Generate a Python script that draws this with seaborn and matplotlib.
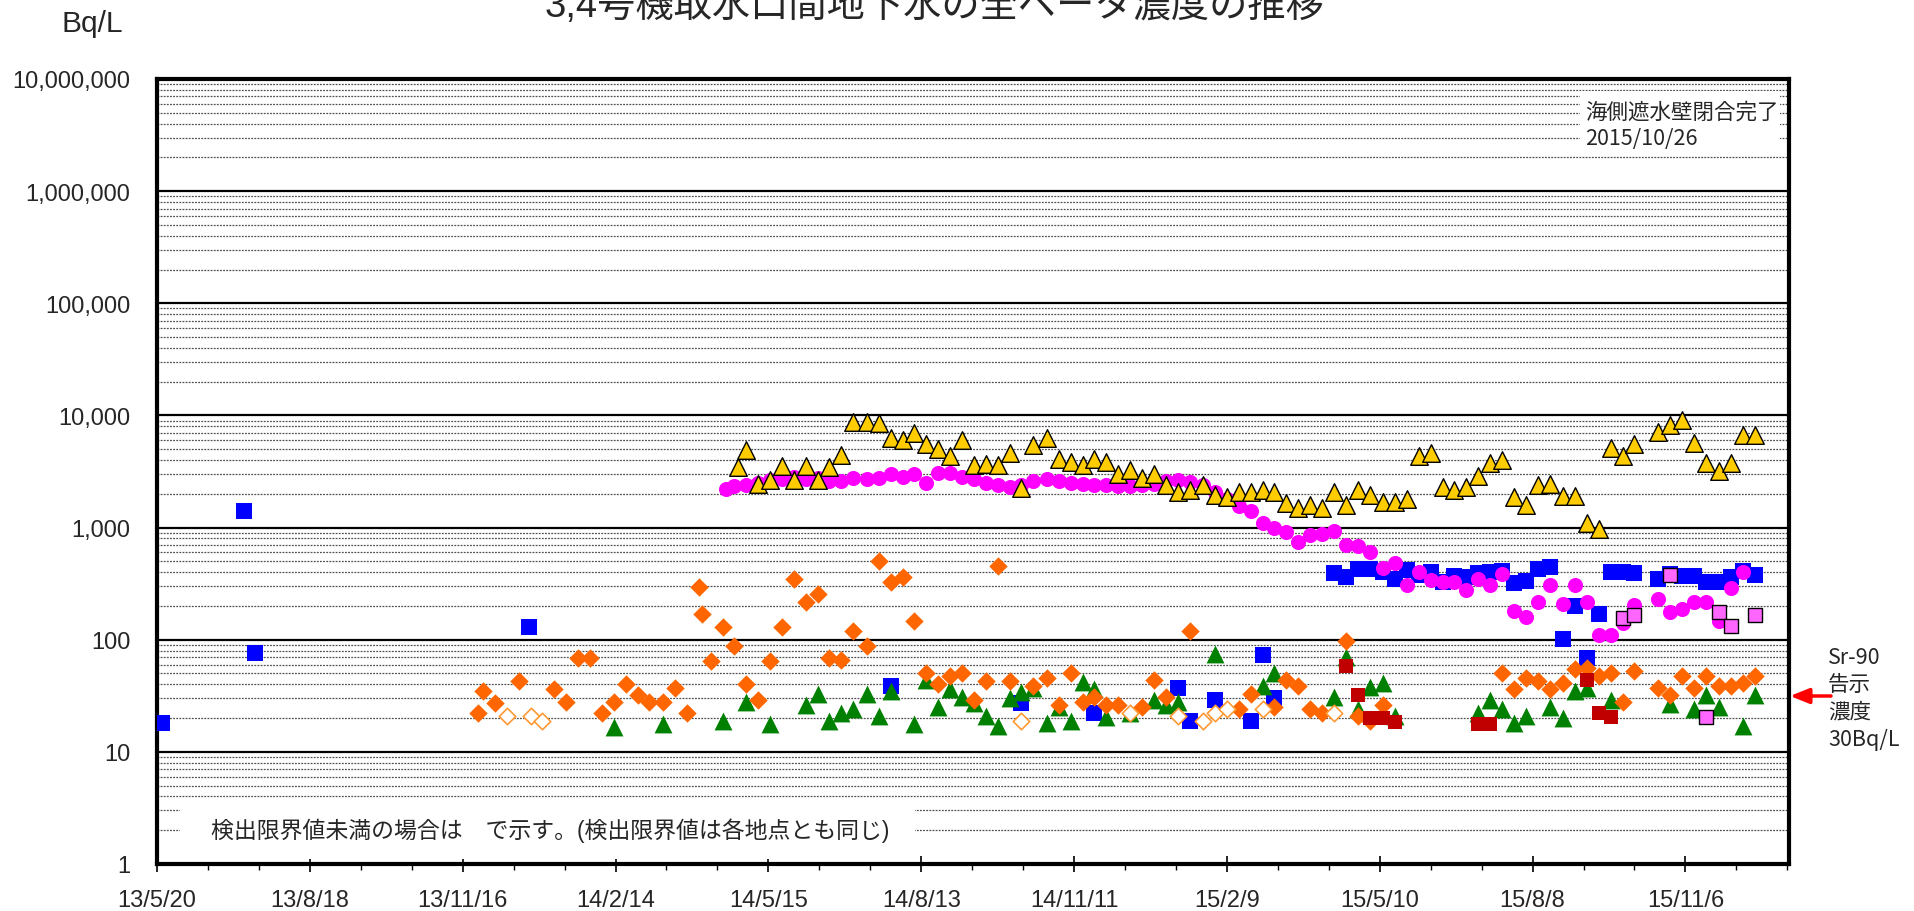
import matplotlib
matplotlib.use('Agg')
import matplotlib.pyplot as plt
import matplotlib.dates as mdates
import matplotlib.ticker as mticker
from matplotlib.patches import Rectangle
import numpy as np
import pandas as pd
import seaborn as sns

W, H, DPI = 1914, 912, 100
NA = None

TITLE = '3,4号機取水口間地下水の全ベータ濃度の推移'
NOTE = '検出限界値未満の場合は　で示す。(検出限界値は各地点とも同じ)'
WALL_NOTE = '海側遮水壁閉合完了\n2015/10/26'
SR_NOTE = 'Sr-90\n告示\n濃度\n30Bq/L'

# weekly sampling days (from 2014/5)
week = [
    '2014-05-02', '2014-05-09', '2014-05-16', '2014-05-23', '2014-05-30', '2014-06-06', '2014-06-13', '2014-06-20', '2014-06-27', '2014-07-04',
    '2014-07-12', '2014-07-19', '2014-07-26', '2014-08-02', '2014-08-09', '2014-08-16', '2014-08-23', '2014-08-30', '2014-09-06', '2014-09-13',
    '2014-09-20', '2014-09-27', '2014-10-04', '2014-10-11', '2014-10-18', '2014-10-26', '2014-11-02', '2014-11-09', '2014-11-16', '2014-11-23',
    '2014-11-30', '2014-12-07', '2014-12-14', '2014-12-21', '2014-12-28', '2015-01-04', '2015-01-11', '2015-01-18', '2015-01-26', '2015-02-02',
    '2015-02-09', '2015-02-16', '2015-02-23', '2015-03-02', '2015-03-09', '2015-03-16', '2015-03-23', '2015-03-30', '2015-04-06', '2015-04-13',
    '2015-04-20', '2015-04-27', '2015-05-04', '2015-05-12', '2015-05-19', '2015-05-26', '2015-06-02', '2015-06-09', '2015-06-16', '2015-06-23',
    '2015-06-30', '2015-07-07', '2015-07-14', '2015-07-21', '2015-07-28', '2015-08-04', '2015-08-11', '2015-08-18', '2015-08-26', '2015-09-02',
    '2015-09-09', '2015-09-16', '2015-09-23', '2015-09-30', '2015-10-07', '2015-10-14', '2015-10-21', '2015-10-28', '2015-11-04', '2015-11-11',
    '2015-11-18', '2015-11-26', '2015-12-03', '2015-12-10', '2015-12-17']

magenta_early_dates = ['2014-04-20', '2014-04-25']
magenta_early_vals = [2220, 2350]
magenta_w = [
    2420, 2520, 2640, 2730, 2830, 2730, 2770, 2580, 2580, 2790,
    2690, 2790, 2990, 2830, 3030, 2500, 3090, 3090, 2830, 2730,
    2500, 2380, 2300, 2380, 2580, 2690, 2600, 2520, 2460, 2420,
    2420, 2350, 2350, 2420, 2460, 2580, 2640, 2550, 2380, 2080,
    1810, 1560, 1400, 1100, 1000, 915, 745, 860, 880, 925,
    700, 690, 600, 435, 480, 310, 400, 340, 330, 330,
    278, 348, 308, 385, 180, 158, 218, 308, 208, 308,
    218, 111, 111, 140, 205, NA, 230, 178, 188, 218,
    218, 148, 288, 400, NA]

yellow_early_dates = ['2014-04-27']
yellow_early_vals = [3470]
yellow_w = [
    4880, 2460, 2640, 3540, 2640, 3540, 2640, 3470, 4470, 8720,
    8720, 8550, 6320, 5990, 6970, 5520, 4980, 4340, 6070, 3640,
    3720, 3640, 4650, 2250, 5410, 6320, 4110, 3840, 3640, 4060,
    3840, 3020, 3240, 2770, 3020, 2420, 2080, 2180, 2380, 1970,
    1880, 2080, 2080, 2180, 2080, 1670, 1480, 1600, 1480, 2080,
    1580, 2180, 1970, 1690, 1690, 1790, 4350, 4650, 2300, 2180,
    2300, 2890, 3790, 3980, 1870, 1580, 2380, 2460, 1900, 1900,
    1090, 980, 5120, 4310, 5520, NA, 7110, 8150, 9020, 5670,
    3770, 3170, 3770, 6730, 6640]

orange_early_dates = [
    '2013-11-25', '2013-11-28', '2013-12-05', '2013-12-19', '2014-01-09', '2014-01-16', '2014-01-23',
    '2014-01-30', '2014-02-06', '2014-02-13', '2014-02-20', '2014-02-27', '2014-03-06', '2014-03-14',
    '2014-03-21', '2014-03-28', '2014-04-04', '2014-04-06', '2014-04-11', '2014-04-18', '2014-04-25']
orange_early_vals = [22, 35, 27, 43, 36, 28, 68, 68, 22, 28, 40, 32, 28, 28, 37, 22, 297, 169, 64, 129, 88]
orange_w = [
    40, 29, 64, 129, 345, 217, 258, 68, 66, 119,
    87, 502, 327, 365, 147, 50, 40, 47, 51, 29,
    43, 450, 43, NA, 39, 46, 26, 50, 28, 31,
    26, 26, NA, 25, 44, 31, NA, 119, NA, NA,
    NA, 24, 33, NA, 25, 44, 39, 24, 22, NA,
    98, 21, 19, 26, NA, NA, NA, NA, NA, NA,
    NA, NA, NA, 51, 36, 46, 43, 36, 41, 55,
    56, 47, 50, 28, 53, NA, 37, 32, 47, 37,
    47, 39, 39, 41, 47]

green_early_dates = ['2014-02-13', '2014-03-14', '2014-04-18']
green_early_vals = [16.7, 17.8, 18.8]
green_w = [
    28, NA, 17.8, NA, NA, 26, 33, 18.8, 22, 24,
    33, 21, 35, NA, 17.8, 44, 25, 36.5, 31, 27,
    21, 17, 30, 34.5, 37, 18, 25, 19, 42, 36.5,
    20.5, NA, 22, NA, 29, 26, 28, NA, NA, 75,
    NA, NA, NA, 39, 51, NA, NA, NA, NA, 31,
    70, 24, 38, 41, 21, NA, NA, NA, NA, NA,
    NA, 22, 29, 24, 18, 21, NA, 25, 20, 35,
    37, NA, 29, NA, NA, NA, NA, 26.5, NA, 24,
    32, 25, NA, 17, 32]

blue_dates = [
    '2013-05-23', '2013-07-10', '2013-07-17', '2013-12-25', '2014-07-26', '2014-10-11', '2014-11-23',
    '2015-01-11', '2015-01-18', '2015-02-02', '2015-02-23', '2015-03-02', '2015-03-09',
    '2015-04-13', '2015-04-20', '2015-04-27', '2015-05-04', '2015-05-12', '2015-05-19', '2015-05-26',
    '2015-06-02', '2015-06-09', '2015-06-16', '2015-06-23', '2015-06-30', '2015-07-07', '2015-07-14',
    '2015-07-21', '2015-07-28', '2015-08-04', '2015-08-11', '2015-08-18', '2015-08-26', '2015-09-02',
    '2015-09-09', '2015-09-16', '2015-09-23', '2015-09-30', '2015-10-07', '2015-10-21', '2015-10-28',
    '2015-11-04', '2015-11-11', '2015-11-18', '2015-11-26', '2015-12-03', '2015-12-10', '2015-12-17']
blue_vals = [
    18, 1400, 76, 129, 39, 27, 22,
    37, 19, 29, 19, 73, 30,
    390, 364, 430, 430, 400, 345, 415,
    374, 401, 326, 369, 364, 390, 401,
    409, 318, 333, 430, 448, 101, 199,
    68, 168, 401, 401, 390, 345, 382,
    369, 369, 326, 326, 364, 409, 374]

open_dates = ['2013-12-12', '2013-12-26', '2014-01-02', '2014-10-11', '2014-12-14', '2015-01-11',
              '2015-01-26', '2015-02-02', '2015-02-09', '2015-03-02', '2015-04-13']
open_vals = [21, 21, 19, 19, 22, 21, 19, 22, 24, 24, 22]

red_dates = ['2015-04-20', '2015-04-27', '2015-05-04', '2015-05-12', '2015-05-19',
             '2015-07-07', '2015-07-14', '2015-09-09', '2015-09-16', '2015-09-23']
red_vals = [58, 32, 20, 20, 18.5, 17.6, 17.6, 43.6, 22.3, 20.5]

pink_dates = ['2015-09-30', '2015-10-07', '2015-10-28', '2015-11-18', '2015-11-26', '2015-12-03', '2015-12-17']
pink_vals = [156, 167, 374, 20.5, 176, 132, 167]

sns.set_style('white')
plt.rcParams['font.family'] = ['Liberation Sans', 'Noto Sans CJK JP', 'DejaVu Sans']
JP = ['Noto Sans CJK JP', 'DejaVu Sans']


def make_frame(dates, vals):
    df = pd.DataFrame({'date': pd.to_datetime(dates), 'value': pd.array(vals, dtype='Float64')})
    df = df.dropna()
    df['value'] = df['value'].astype(float)
    return df


def fx(px):
    return px / W


def fy(py):
    return 1 - py / H


def plot_series(ax, df, marker, size, color, edge, lw, z):
    sns.scatterplot(data=df, x='date', y='value', ax=ax, marker=marker, s=size,
                    color=color, edgecolor=edge, linewidth=lw, zorder=z, legend=False)


fig = plt.figure(figsize=(W / DPI, H / DPI), dpi=DPI)
ax = fig.add_axes([fx(157), fy(865), fx(1789 - 157), (865 - 80) / H])

plot_series(ax, make_frame(blue_dates, blue_vals), 's', 135, '#0000FF', '#0000FF', 0, 3)
plot_series(ax, make_frame(green_early_dates + week, green_early_vals + green_w), '^', 165, '#008000', '#008000', 0, 4)
plot_series(ax, make_frame(orange_early_dates + week, orange_early_vals + orange_w), 'D', 88, '#FF6600', '#FF6600', 0, 5)
plot_series(ax, make_frame(open_dates, open_vals), 'D', 70, 'white', '#FF9933', 1.2, 6)
plot_series(ax, make_frame(magenta_early_dates + week, magenta_early_vals + magenta_w), 'o', 118, '#FF00FF', '#FF00FF', 0, 7)
plot_series(ax, make_frame(yellow_early_dates + week, yellow_early_vals + yellow_w), '^', 160, '#FFCC00', 'black', 1.0, 8)
plot_series(ax, make_frame(red_dates, red_vals), 's', 108, '#C00000', '#C00000', 0, 9)
plot_series(ax, make_frame(pink_dates, pink_vals), 's', 100, '#FF66FF', 'black', 1.0, 10)

# axes scales
ax.set_yscale('log')
ax.set_ylim(1, 1e7)
ax.set_xlim(mdates.date2num(pd.Timestamp('2013-05-20')), mdates.date2num(pd.Timestamp('2016-01-06')))
ax.set_xlabel('')
ax.set_ylabel('')

ax.yaxis.set_major_locator(mticker.LogLocator(base=10, numticks=20))
ax.yaxis.set_minor_locator(mticker.LogLocator(base=10, subs=np.arange(2, 10), numticks=20))
ax.yaxis.set_major_formatter(mticker.FuncFormatter(lambda v, p: f'{int(round(v)):,}'))
ax.yaxis.set_minor_formatter(mticker.NullFormatter())

ax.xaxis.set_major_locator(mticker.MultipleLocator(90, offset=5))
ax.xaxis.set_minor_locator(mticker.MultipleLocator(30, offset=5))


def date_label(v, p):
    d = mdates.num2date(v)
    return f'{d.year % 100}/{d.month}/{d.day}'


ax.xaxis.set_major_formatter(mticker.FuncFormatter(date_label))

ax.tick_params(axis='x', which='major', direction='inout', length=12, width=1.2,
               color='black', pad=12, labelsize=17, bottom=True)
ax.tick_params(axis='x', which='minor', direction='out', length=4, width=1.0, color='black', bottom=True)
ax.tick_params(axis='y', which='both', length=0, pad=19, labelsize=17, left=True)

ax.set_axisbelow(True)
ax.grid(False)
ax.yaxis.grid(True, which='major', color='black', lw=1.6)
ax.yaxis.grid(True, which='minor', color='#505050', lw=0.9, ls=(0, (1.5, 1.0)))
for sp in ax.spines.values():
    sp.set_visible(True)
    sp.set_color('black')
    sp.set_linewidth(3)

# white boxes behind the notes
ax.add_patch(Rectangle((fx(1580), fy(156)), fx(200), 64 / H, transform=fig.transFigure,
                       facecolor='white', edgecolor='none', zorder=1))
ax.add_patch(Rectangle((fx(180), fy(860)), fx(735), 57 / H, transform=fig.transFigure,
                       facecolor='white', edgecolor='none', zorder=1))

fig.text(fx(935), fy(17), TITLE, ha='center', va='baseline', fontsize=27.5)
fig.text(fx(61), fy(32), 'Bq/L', ha='left', va='baseline', fontsize=21.5)
fig.text(fx(1585), fy(126), WALL_NOTE, ha='left', va='center', fontsize=15.5,
         linespacing=1.28, family=JP)
fig.text(fx(211), fy(831), NOTE, ha='left', va='center', fontsize=16.5)
fig.text(fx(1828), fy(699), SR_NOTE, ha='left', va='center', fontsize=15.5,
         linespacing=1.3, family=JP)

ax.annotate('', xy=(1790, H - 697), xycoords='figure pixels',
            xytext=(1831, H - 697), textcoords='figure pixels',
            arrowprops=dict(arrowstyle='-|>,head_length=0.4,head_width=0.16', color='red',
                            lw=2.5, mutation_scale=29, shrinkA=0, shrinkB=0),
            annotation_clip=False)

fig.savefig('out.png', dpi=DPI)
plt.close(fig)
